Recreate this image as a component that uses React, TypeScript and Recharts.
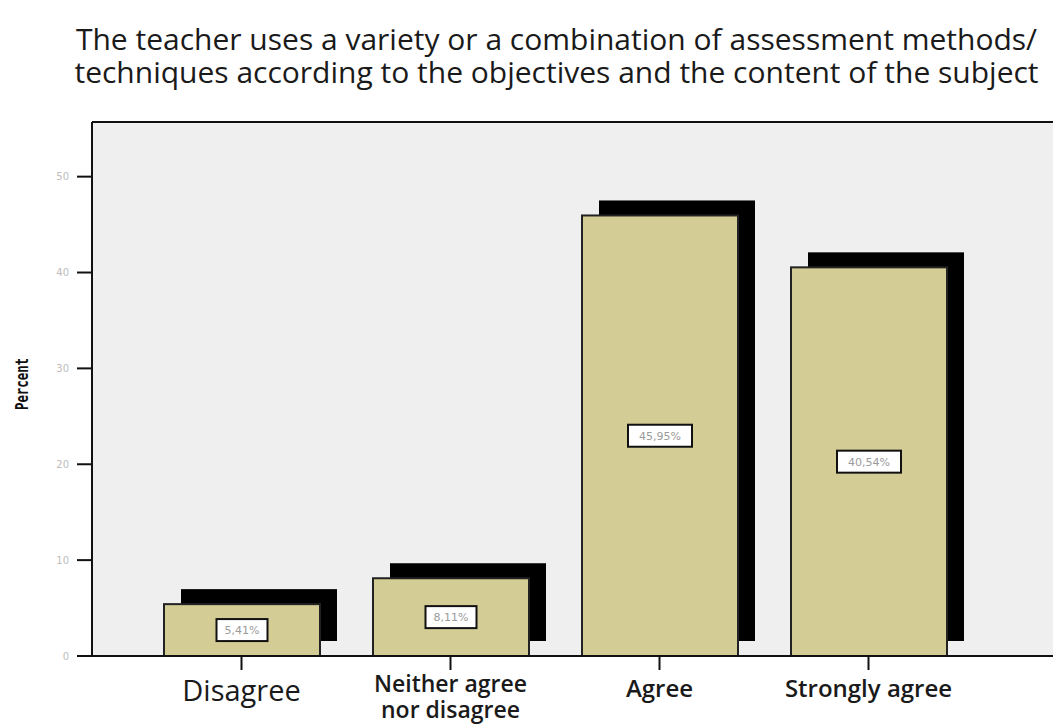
import { BarChart, Bar, XAxis, YAxis, CartesianGrid, ReferenceLine, LabelList } from 'recharts';

const categories = ['Disagree', 'Neither agree nor disagree', 'Agree', 'Strongly agree'];
const percents = [5.41, 8.11, 45.95, 40.54];
const valueLabels = ['5,41%', '8,11%', '45,95%', '40,54%'];
const yTicks = [0, 10, 20, 30, 40, 50];
const titleLines = [
  'The teacher uses a variety or a combination of assessment methods/',
  'techniques according to the objectives and the content of the subject',
];

const Y_MAX = 55.7;

const chartData = categories.map((name, i) => ({
  name,
  percent: percents[i],
  label: valueLabels[i],
}));

// bar with offset black shadow behind it
const ShadowBar = (props: any) => {
  const { x, y, width, height } = props;
  return (
    <g>
      <rect x={x + 17} y={y - 15} width={width} height={height} fill="#000" />
      <rect x={x} y={y} width={width} height={height} fill="#d3cc95" stroke="#222" strokeWidth={2} />
    </g>
  );
};

const ValueBox = (props: any) => {
  const { x, y, width, height, value } = props;
  const text = String(value);
  const w = text.length * 13 - 14;
  const h = 22;
  const cx = x + width / 2;
  const cy = y + height / 2;
  return (
    <g>
      <rect x={cx - w / 2} y={cy - h / 2} width={w} height={h} fill="#fff" stroke="#111" strokeWidth={2} />
      <text x={cx} y={cy + 4} textAnchor="middle" fontSize={11} fill="#9a9a9a" fontFamily="DejaVu Sans">
        {text}
      </text>
    </g>
  );
};

const XTick = (props: any) => {
  const { x, y, payload } = props;
  const v: string = payload.value;
  const font = { fontFamily: 'Open Sans', fill: '#1a1a1a' };
  if (v === 'Disagree') {
    return (
      <text x={x} y={y + 29} textAnchor="middle" fontSize={29} {...font}>
        {v}
      </text>
    );
  }
  if (v === 'Neither agree nor disagree') {
    return (
      <text textAnchor="middle" fontSize={23} fontWeight={600} {...font}>
        <tspan x={x} y={y + 20}>Neither agree</tspan>
        <tspan x={x} y={y + 46}>nor disagree</tspan>
      </text>
    );
  }
  return (
    <text x={x} y={y + 25} textAnchor="middle" fontSize={24} fontWeight={600} {...font}>
      {v}
    </text>
  );
};

const PercentLabel = () => (
  <text
    x={28}
    y={384}
    transform="rotate(-90, 28, 384)"
    textAnchor="middle"
    fontSize={17}
    fontWeight="bold"
    fill="#111"
    fontFamily="DejaVu Sans Mono"
    textLength={52}
    lengthAdjust="spacingAndGlyphs"
  >
    Percent
  </text>
);

export default function App() {
  return (
    <div style={{ position: 'absolute', left: 0, top: 0, width: 1053, height: 724, background: '#fff', overflow: 'hidden' }}>
      <div
        style={{
          position: 'absolute',
          left: 0,
          top: 22,
          width: 1113,
          textAlign: 'center',
          fontFamily: 'Open Sans',
          fontSize: 30,
          lineHeight: '33px',
          color: '#1a1a1a',
          whiteSpace: 'nowrap',
        }}
      >
        {titleLines.map((t) => (
          <div key={t}>{t}</div>
        ))}
      </div>
      <BarChart
        width={1053}
        height={724}
        data={chartData}
        margin={{ top: 122, right: 0, bottom: 0, left: 0 }}
        barSize={156}
      >
        <CartesianGrid fill="#efefef" horizontal={false} vertical={false} />
        <XAxis
          dataKey="name"
          padding={{ left: 45, right: 80 }}
          height={68}
          tickSize={14}
          tickLine={{ stroke: '#111', strokeWidth: 2 }}
          axisLine={{ stroke: '#111', strokeWidth: 2 }}
          tick={<XTick />}
          interval={0}
        />
        <YAxis
          width={92}
          domain={[0, Y_MAX]}
          ticks={yTicks}
          tickSize={15}
          tickLine={{ stroke: '#111', strokeWidth: 2 }}
          axisLine={{ stroke: '#111', strokeWidth: 2 }}
          tick={{ fill: '#bdbdbd', fontSize: 10, fontFamily: 'DejaVu Sans' }}
          tickMargin={8}
          label={<PercentLabel />}
        />
        <ReferenceLine y={Y_MAX} stroke="#111" strokeWidth={2} />
        <Bar dataKey="percent" shape={<ShadowBar />} isAnimationActive={false}>
          <LabelList dataKey="label" content={<ValueBox />} />
        </Bar>
      </BarChart>
    </div>
  );
}
